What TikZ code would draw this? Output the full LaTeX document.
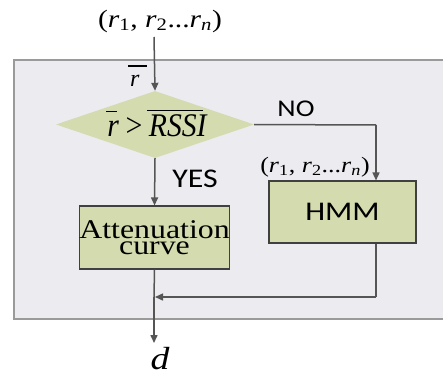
\documentclass[tikz,border=0pt]{standalone}
\usepackage{fontspec}
\usepackage{graphicx}
\setmainfont{Liberation Serif}
\newfontfamily\calib{Carlito}
\usetikzlibrary{shapes.geometric,arrows.meta}
\definecolor{bgfill}{HTML}{EBEBF0}
\definecolor{bgline}{HTML}{9A9A9A}
\definecolor{boxgreen}{HTML}{D3DBAF}
\definecolor{linegray}{HTML}{555555}
\definecolor{boxline}{HTML}{404040}
\newcommand{\sxx}[1]{\scalebox{1.18}[1]{#1}}
\newcommand{\ovbar}[4]{\vbox{\offinterlineskip\moveright#1\hbox{\vrule width #2 height 1.4pt depth 0pt}\kern#3\hbox{#4}}}
\newcommand{\rlistx}{(\textit{r}\textsubscript{1}, \textit{r}\textsubscript{2}...\textit{r}\textsubscript{\textit{n}})}
\tikzset{
  flow/.style={draw=linegray, line width=1.5pt, -{Triangle[length=8pt,width=7pt]}},
  plain/.style={draw=linegray, line width=1.5pt},
  procbox/.style={draw=boxline, line width=1.1pt, fill=boxgreen, inner sep=0pt},
  lbl/.style={inner sep=0pt},
}
\begin{document}
\begin{tikzpicture}[x=1pt,y=-1pt]
\useasboundingbox (0,0) rectangle (443,374);
\fill[white] (0,0) rectangle (443,374);
\draw[bgline, line width=1.3pt, fill=bgfill] (14,60) rectangle (450,319);
% nodes
\node[lbl, font=\fontsize{25}{25}\selectfont] (inp) at (160,21) {\sxx{\rlistx}};
\node[lbl, anchor=base west, font=\fontsize{24}{24}\selectfont\itshape] (rbar) at (130,87) {\ovbar{-2pt}{19pt}{9pt}{r}};
\node[diamond, aspect=2.96, fill=boxgreen, inner sep=0pt, minimum width=198pt, minimum height=67pt] (dec) at (155,124.5) {};
\node[lbl, anchor=base, font=\fontsize{33}{33}\selectfont\itshape] (dectext) at (157,136)
      {\scalebox{0.9}[1]{\ovbar{-1pt}{12pt}{8pt}{r}\,>\,\ovbar{-2pt}{62pt}{3pt}{RSSI}}};
\node[lbl, font=\calib\fontsize{24}{24}\selectfont] (no) at (296,108.5) {\sxx{NO}};
\node[lbl, font=\calib\fontsize{27}{27}\selectfont] (yes) at (195,178.5) {\sxx{YES}};
\node[lbl, font=\fontsize{22}{22}\selectfont] (inp2) at (315,167.5) {\sxx{\rlistx}};
\node[procbox, minimum width=147pt, minimum height=63pt, align=center,
      font=\fontsize{27}{16}\selectfont] (att) at (154.5,237.5)
      {\sxx{Attenuation}\\\sxx{curve}};
\node[procbox, minimum width=147pt, minimum height=62pt,
      font=\calib\fontsize{27}{27}\selectfont] (hmm) at (342.5,212) {\sxx{HMM}};
\node[lbl, anchor=base, font=\fontsize{32}{32}\selectfont\itshape] (d) at (160,369.5) {\sxx{d}};
\coordinate (top) at (154,37);
\coordinate (corner1) at (376,125);
\coordinate (merge) at (154,297);
\coordinate (corner2) at (376,297);
\coordinate (dend) at (154,343);
% connectors
\draw[flow] (top) -- (dec.north);
\draw[plain] (dec.east) -- (corner1);
\draw[flow] (corner1) -- (corner1 |- hmm.north);
\draw[flow] (dec.south) -- (att.north);
\draw[plain] (att.south) -- (merge);
\draw[flow] (merge) -- (dend);
\draw[plain] (corner2 |- hmm.south) -- (corner2);
\draw[flow] (corner2) -- ([xshift=1pt]merge);
\end{tikzpicture}
\end{document}
